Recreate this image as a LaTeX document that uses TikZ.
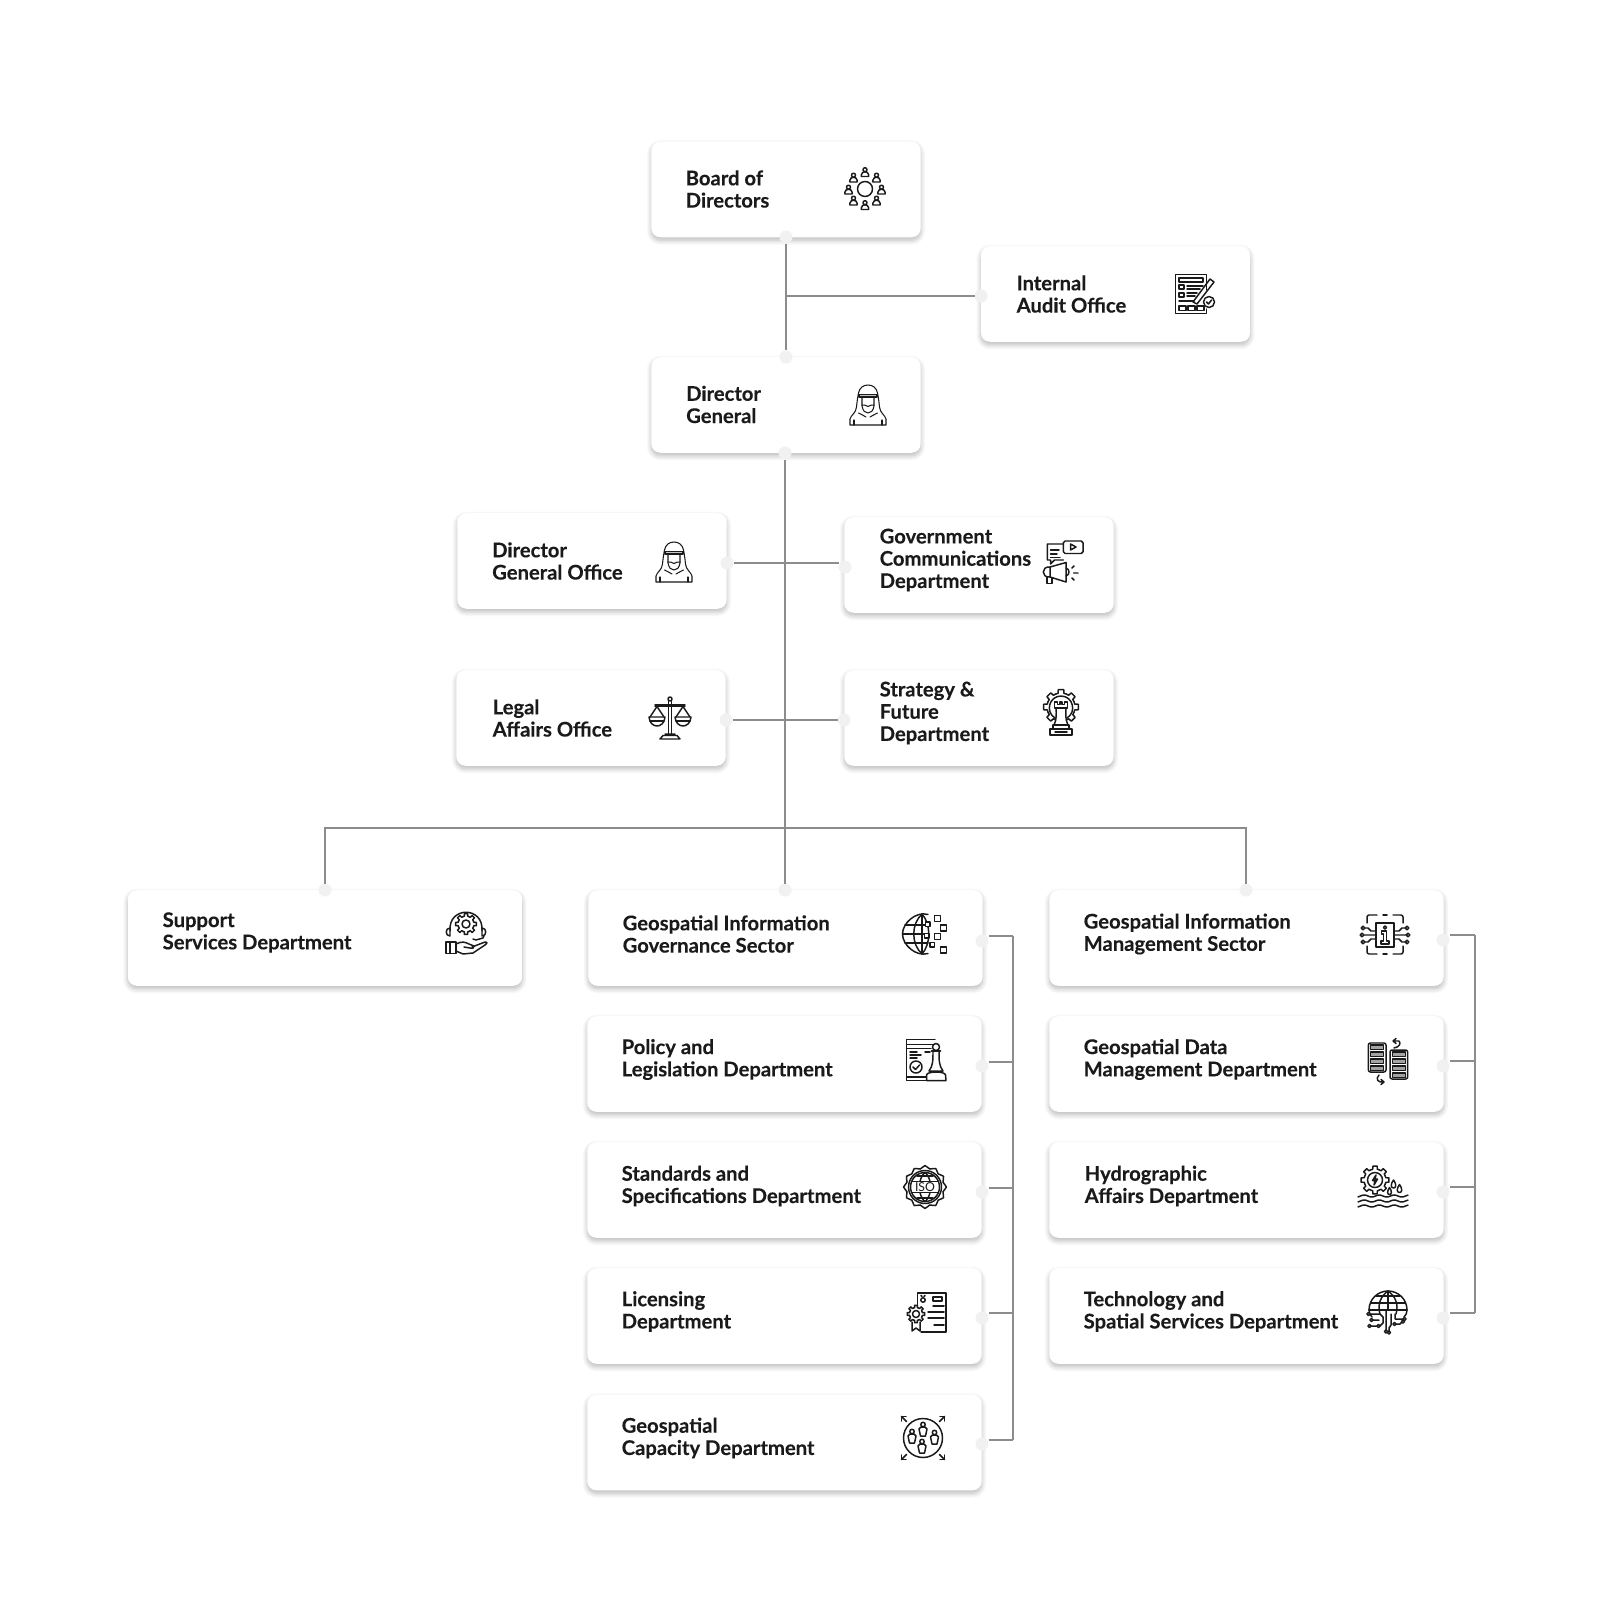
\documentclass[tikz,border=0pt]{standalone}
\usepackage{fontspec}
\setmainfont{Lato}[BoldFeatures={FakeBold=0.2}]
\usetikzlibrary{shadows.blur}

\definecolor{inkdark}{HTML}{1A1A1A}
\definecolor{linkgrey}{HTML}{8C8C8C}
\definecolor{dotgrey}{HTML}{F1F1F1}

\tikzset{
  cardbox/.style={fill=white,rounded corners=.09cm,minimum width=2.69cm,minimum height=.955cm,inner sep=0pt,
    blur shadow={shadow xshift=0cm,shadow yshift=-.03cm,shadow blur radius=.05cm,shadow blur steps=8,shadow opacity=28}},
  widecard/.style={cardbox,minimum width=3.94cm},
  cardtext/.style={anchor=west,align=left,inner sep=0pt,text=inkdark,font=\fontsize{5.75}{6.33}\selectfont\bfseries},
  linkdot/.style={circle,fill=dotgrey,minimum size=.13cm,inner sep=0pt,outer sep=0pt},
  linkline/.style={draw=linkgrey,line width=.55pt},
  iconline/.style={draw=inkdark,line width=.42pt,line cap=round,line join=round},
  thinline/.style={draw=inkdark,line width=.3pt,line cap=round,line join=round},
  miniperson/.pic={
    \draw[iconline] (0,-2.8) circle (2);
    \draw[iconline] (-3.6,4) -- (-3.6,2.2) .. controls (-3.4,0) and (-1.5,-.7) .. (0,-.7) .. controls (1.5,-.7) and (3.4,0) .. (3.6,2.2) -- (3.6,4) -- cycle;
  },
  boardicon/.pic={
    \draw[iconline] (0,0) circle (7.5);
    \foreach \a/\b in {0/-16.5,-11.5/-11,11.5/-11,-16.5/1,16.5/1,-11.5/12,11.5/12,0/16.5}
      \pic at (\a,\b) {miniperson};
  },
  manicon/.pic={
    \draw[thinline] (-18,20) -- (-18,14) .. controls (-17,10) and (-12,8) .. (-11.5,2) .. controls (-11,-3) and (-10.5,-7) .. (-9.5,-12) .. controls (-8.5,-17) and (-5,-20) .. (0,-20) .. controls (5,-20) and (8.5,-17) .. (9.5,-12) .. controls (10.5,-7) and (11,-3) .. (11.5,2) .. controls (12,8) and (17,10) .. (18,14) -- (18,20) -- cycle;
    \draw[thinline,fill=inkdark!25] (-9,-10.5) rectangle (9,-8);
    \draw[thinline] (-6,-8) -- (-6,1) .. controls (-5,6) and (-3,8) .. (0,8) .. controls (3,8) and (5,6) .. (6,1) -- (6,-8);
    \draw[thinline] (-6,0) .. controls (-4,0) and (-2,0) .. (0,1.5) .. controls (2,0) and (4,0) .. (6,0);
    \draw[thinline] (-9.5,8) .. controls (-7,10) and (-4,10) .. (-2,12) (9.5,8) .. controls (7,10) and (4,10) .. (2,12);
    \draw[thinline] (-14,15) -- (-14,20) (14,15) -- (14,20);
  },
  auditicon/.pic={
    \draw[iconline] (11.5,-4) -- (11.5,-19.5) -- (-19.5,-19.5) -- (-19.5,19.5) -- (11.5,19.5) -- (11.5,15);
    \draw[iconline] (-16,-16) rectangle (8,-12);
    \draw[iconline] (-16,-9) rectangle (-11,-5) (-16,-1) rectangle (-11,3);
    \draw[iconline] (-8,-8) -- (8,-8) (-8,-5) -- (5,-5) (-8,-1) -- (2,-1) (-8,2) -- (0,2) (-16,7) -- (-1,7);
    \draw[iconline] (-16,12) rectangle (-9,16.5) (-7,12) rectangle (0,16.5) (2,12) rectangle (9,16.5);
    \draw[iconline] (-2,8) -- (15,-15) -- (19,-12) -- (2,10) -- cycle;
    \draw[iconline,fill=white] (14,8) circle (5.5);
    \draw[iconline] (11.5,8) -- (13.5,10) -- (16.5,6);
  },
  govicon/.pic={
    \draw[iconline] (.3,-17) -- (-15.7,-17) -- (-15.7,-1) -- (-12.5,-1) -- (-12.5,3) -- (-8.5,-1) -- (.3,-1);
    \draw[iconline] (-12.5,-11) -- (-4,-11) (-12.5,-7) -- (-6,-7) (-12.5,-3.5) -- (-3,-3.5);
    \draw[iconline,rounded corners=.5pt,fill=white] (.3,-20) rectangle (20,-7.5);
    \draw[iconline] (7.5,-17) -- (7.5,-11) -- (13,-14) -- cycle;
    \draw[iconline] (-13,6) -- (3,1.5) -- (3,21) -- (-13,16) -- cycle;
    \draw[iconline] (-13,6) .. controls (-22,5) and (-22,17) .. (-13,16);
    \draw[iconline] (-16,16) -- (-16,22.5) -- (-11,22.5) -- (-11,16.5);
    \draw[iconline] (3,7) .. controls (7,8) and (7,14) .. (3,15);
    \draw[iconline] (9,7) -- (11,5) (10.5,12) -- (15,12) (9,17) -- (11,19);
  },
  legalicon/.pic={
    \draw[iconline] (-1.5,-18) -- (-1.5,16) (1.5,-18) -- (1.5,16);
    \draw[iconline] (0,-19) circle (2);
    \draw[iconline] (-15,-13) -- (15,-13) (-15,-11.5) -- (15,-11.5);
    \draw[iconline] (-5,16) -- (5,16) (-10,21) -- (10,21) -- (7,17.5) -- (-7,17.5) -- cycle;
    \foreach \s in {-1,1}{
      \draw[iconline] (\s*13,-11.5) -- (\s*6,-1) (\s*13,-11.5) -- (\s*20,-1);
      \draw[iconline] (\s*5,-1) -- (\s*21,-1) .. controls (\s*20,11) and (\s*6,11) .. (\s*5,-1);
      \draw[iconline] (\s*6,3) -- (\s*20,3);
    }
  },
  strategyicon/.pic={
    \foreach \a in {0,45,135,180,225,270,315}
      \draw[iconline,shift={(0,-7)}] (\a-22.5:14) -- (\a-12:14) -- (\a-9:17.5) -- (\a+9:17.5) -- (\a+12:14) -- (\a+22.5:14);
    \draw[iconline] (-6,4) .. controls (-16,-2) and (-12,-18) .. (0,-18) .. controls (12,-18) and (16,-2) .. (6,4);
    \draw[iconline] (-6.5,-12) -- (-6.5,-6) -- (6.5,-6) -- (6.5,-12) -- (3.5,-12) -- (3.5,-9.5) -- (1.2,-9.5) -- (1.2,-12) -- (-1.2,-12) -- (-1.2,-9.5) -- (-3.5,-9.5) -- (-3.5,-12) -- cycle;
    \draw[iconline] (-5,-6) .. controls (-4.5,0) and (-4.5,6) .. (-7,11) -- (7,11) .. controls (4.5,6) and (4.5,0) .. (5,-6);
    \draw[iconline] (-8,11) rectangle (8,15) (-11,15) -- (11,15) -- (11,21) -- (-11,21) -- cycle;
    \draw[iconline] (-6,18) -- (6,18);
  },
  supporticon/.pic={
    \foreach \a in {0,45,...,315}
      \draw[iconline,shift={(0,-10)}] (\a-22.5:8) -- (\a-12:8) -- (\a-9:10.5) -- (\a+9:10.5) -- (\a+12:8) -- (\a+22.5:8);
    \draw[iconline] (0,-10) circle (4);
    \draw[iconline] (-16,-3) .. controls (-18,-28) and (18,-28) .. (16,-3);
    \draw[iconline] (-16,-6) .. controls (-21,-6) and (-21,2) .. (-16,2) -- cycle (16,-6) .. controls (21,-6) and (21,2) .. (16,2) -- cycle;
    \draw[iconline] (18,2) -- (17,4) -- (10,6) -- (7,5);
    \draw[iconline] (-20,8) rectangle (-10,19.5) (-16,8) -- (-16,19.5);
    \draw[iconline] (-10,10) .. controls (-4,7) and (-1,8) .. (3,10) -- (8,12) .. controls (9,14) and (6,15) .. (4,14) -- (-2,13);
    \draw[iconline] (6,13) -- (19,8) .. controls (22,8) and (21,10) .. (19,11) -- (7,19) -- (-3,20) -- (-10,17);
  },
  gigicon/.pic={
    \draw[iconline] (3,-19.5) .. controls (-9,-23) and (-22.5,-11) .. (-22.5,0) .. controls (-22.5,11) and (-9,23) .. (3,19.5);
    \draw[iconline] (-3,-20) .. controls (-14,-10) and (-14,10) .. (-3,20) (-3,-20) .. controls (6,-10) and (6,10) .. (-3,20);
    \draw[iconline] (-3,-20) -- (-3,20) (-22.5,0) -- (-1,0) (-20,-9) -- (2,-9) (-20,9) -- (3,9);
    \foreach \a/\b in {12.3/-15.4,18.3/-6,12.3/2.5,18.3/16}
      \draw[iconline,fill=white] (\a-3,\b-3) rectangle (\a+3,\b+3);
    \foreach \a/\b in {2.7/-9.6,1.7/1.8,7.3/10.7}
      \draw[iconline,fill=white] (\a-2.2,\b-2.2) rectangle (\a+2.2,\b+2.2);
  },
  policyicon/.pic={
    \draw[iconline] (10,-20.5) -- (-18.3,-20.5) -- (-18.3,20.5) -- (13.3,20.5);
    \draw[iconline] (-18.3,-15.5) -- (9,-15.5) (-18.3,-11.5) -- (6,-11.5) (-18.3,17) -- (1,17);
    \draw[iconline] (-15,-8) -- (-8,-8) (-15,-5) -- (-4,-5) (-15,-2) -- (-8,-2) (0,-8) -- (5,-8);
    \draw[iconline] (-9,7) circle (6);
    \draw[iconline] (-12,7) -- (-9.5,9.5) -- (-5.5,5);
    \draw[iconline,fill=white] (11,-13) circle (3.5);
    \draw[iconline,fill=white] (8,-9) .. controls (8,0) and (8,6) .. (4,11) -- (18,11) .. controls (14,6) and (14,0) .. (14,-9) -- cycle;
    \draw[iconline] (6.5,-9) -- (15.5,-9);
    \draw[iconline] (1.5,20.5) -- (1.5,15) .. controls (2,11) and (20,11) .. (20.5,15) -- (21,20.5) -- cycle;
  },
  isoicon/.pic={
    \draw[iconline,smooth cycle] plot[domain=0:345,samples=24] (\x:{20+1.4*cos(12*\x)});
    \draw[iconline] (0,0) circle (16.5);
    \draw[iconline] (0,0) circle (14.5);
    \draw[iconline] (-13,-5.5) -- (13,-5.5) (-13,5.5) -- (13,5.5);
    \draw[iconline] (-8,-11) -- (8,-11) (-8,11) -- (8,11);
    \draw[iconline] (-5,-5.5) .. controls (-4,-10) and (-2,-13) .. (0,-14.5) .. controls (2,-13) and (4,-10) .. (5,-5.5);
    \draw[iconline] (-5,5.5) .. controls (-4,10) and (-2,13) .. (0,14.5) .. controls (2,13) and (4,10) .. (5,5.5);
    \node[inner sep=0pt,text=inkdark,font=\fontsize{3.5}{4}\selectfont] (isotext) at (0,0) {ISO};
  },
  licenceicon/.pic={
    \draw[iconline] (-10.7,-5) -- (-10.7,-19) -- (18,-19) -- (18,20) -- (-7,20);
    \draw[iconline] (5,-15) rectangle (14,-11);
    \draw[iconline] (-5,-12) circle (2.2);
    \draw[iconline] (-7,-16.5) -- (-6,-15.5) (-3,-16.5) -- (-4,-15.5);
    \draw[iconline] (5,-6) -- (16,-6) (0,0) -- (16,0) (0,6) -- (16,6) (6,13) -- (16,13);
    \foreach \a in {0,45,...,315}
      \draw[iconline,shift={(-12,2)}] (\a-22.5:6.5) -- (\a-12:6.5) -- (\a-9:8.8) -- (\a+9:8.8) -- (\a+12:6.5) -- (\a+22.5:6.5);
    \draw[iconline] (-12,2) circle (3.5);
    \draw[iconline] (-16,10) -- (-16,19) -- (-12,16) -- (-8,19) -- (-8,10);
  },
  capacityicon/.pic={
    \draw[iconline] (0,0) circle (19.5);
    \foreach \a/\b in {0/-8,-11/-1,11.5/0,-1/9}{
      \draw[iconline] (\a,\b-5.5) circle (2.2);
      \draw[iconline] (\a-4,\b-1) -- (\a-2,\b-3) -- (\a+2,\b-3) -- (\a+4,\b-1) -- (\a+2.5,\b+6) -- (\a-2.5,\b+6) -- cycle;
    }
    \foreach \s/\t in {-1/-1,1/-1,-1/1,1/1}{
      \draw[iconline] (\s*16.5,\t*16.5) -- (\s*21.5,\t*21.5);
      \draw[iconline] (\s*17,\t*21.5) -- (\s*21.5,\t*21.5) -- (\s*21.5,\t*17);
    }
  },
  gimicon/.pic={
    \draw[iconline] (-9,-12) rectangle (9,12);
    \draw[iconline] (-3.5,-4) -- (1.5,-4) -- (1.5,6) -- (4,6) -- (4,9) -- (-4,9) -- (-4,6) -- (-1.5,6) -- (-1.5,-1) -- (-3.5,-1) -- cycle;
    \draw[iconline] (0,-7.5) circle (1.6);
    \draw[iconline] (-8,-20) -- (-16,-20) .. controls (-17,-20) and (-18,-19) .. (-18,-18) -- (-18,-12) (8,-20) -- (16,-20) .. controls (17,-20) and (18,-19) .. (18,-18) -- (18,-12);
    \draw[iconline] (-8,19) -- (-16,19) .. controls (-17,19) and (-18,18) .. (-18,17) -- (-18,11) (8,19) -- (16,19) .. controls (17,19) and (18,18) .. (18,17) -- (18,11);
    \draw[iconline] (-2,-20) -- (2,-20) (-2,19) -- (2,19);
    \foreach \s in {-1,1}{
      \draw[iconline] (\s*9,-4) -- (\s*14,-4) -- (\s*17,-7) -- (\s*20,-7) (\s*9,0) -- (\s*21,0) (\s*9,4) -- (\s*14,4) -- (\s*17,7) -- (\s*20,7);
      \draw[iconline,fill=white] (\s*22,-7) circle (1.8) (\s*23,0) circle (1.8) (\s*22,7) circle (1.8);
    }
  },
  gdmicon/.pic={
    \foreach \p/\q in {-19.7/-18,2/-11}{
      \draw[iconline,rounded corners=.6pt] (\p,\q) rectangle (\p+17.7,\q+29);
      \foreach \r in {2,9,16,23}
        \draw[thinline,fill=inkdark!40] (\p+2.5,\q+\r) rectangle (\p+15.2,\q+\r+4.5);
    }
    \draw[iconline] (6,-13) .. controls (12,-14) and (13,-18) .. (11,-20) (5,-20) -- (11,-20) (5,-20) -- (8,-22.5) (5,-20) -- (8,-17.5);
    \draw[iconline] (-9,14) .. controls (-13,18) and (-10,22) .. (-4,21) (-4,21) -- (-7,18.5) (-4,21) -- (-7,23.5);
  },
  hydroicon/.pic={
    \foreach \a in {0,45,...,315}
      \draw[iconline,shift={(-8,-7)}] (\a-22.5:11) -- (\a-12:11) -- (\a-9:14) -- (\a+9:14) -- (\a+12:11) -- (\a+22.5:11);
    \draw[iconline] (-8,-7) circle (7.5);
    \draw[iconline] (-7,-12) -- (-10.5,-6.5) -- (-8,-6.5) -- (-9,-2) -- (-5.5,-8) -- (-8,-8) -- cycle;
    \foreach \a/\b/\c in {10.5/-2/3,16.5/2.5/3,6.5/5/2.5}
      \draw[iconline,fill=white] (\a,\b-\c-2) .. controls (\a+\c,\b-1) and (\a+\c,\b+\c) .. (\a,\b+\c) .. controls (\a-\c,\b+\c) and (\a-\c,\b-1) .. (\a,\b-\c-2);
    \foreach \b in {9,14,19}
      \draw[iconline] plot[domain=-25:25,samples=41] (\x,{\b+1*sin(24*\x)});
  },
  techicon/.pic={
    \draw[iconline] (-19,-3) .. controls (-19,-14) and (-10,-22) .. (0,-22) .. controls (10,-22) and (19,-14) .. (19,-3) .. controls (19,0) and (18,2) .. (16,4);
    \draw[iconline] (-19,-3) .. controls (-19,0) and (-18,2) .. (-16,4);
    \draw[iconline] (-8,1) .. controls (-11,-9) and (-7,-17) .. (0,-22) .. controls (7,-17) and (11,-9) .. (8,1);
    \draw[iconline] (0,-22) -- (0,-3) (-19,-3) -- (19,-3) (-17,-10) -- (17,-10) (-12,-17) -- (12,-17);
    \draw[iconline] (-18,1) -- (-8,1) -- (-5,4) -- (-5,10) -- (-8,13) (-15,7) -- (-9,7) (-17,13) -- (-11,13) (-2,-3) -- (-2,17) (3,1) -- (3,12) -- (1,15) -- (1,19) (7,1) -- (7,6) -- (15,6) (8,11) -- (12,11) -- (14,9);
    \draw[iconline,fill=white] (-19.5,1) circle (1.6) (-16.5,7) circle (1.6) (-18.5,13) circle (1.6) (-9.5,13) circle (1.6) (-2,18.5) circle (1.6) (1,19.5) circle (1.6) (16.5,6) circle (1.6) (6.5,11) circle (1.6) (15,8.5) circle (1.6);
  }
}

\begin{document}
\begin{tikzpicture}[x=.01cm,y=-.01cm]
\useasboundingbox (0,0) rectangle (1600,1600);

\node[cardbox] (board) at (786,189.5) {};
\node[cardbox] (audit) at (1115.5,294) {};
\node[cardbox] (dg) at (786,405) {};
\node[cardbox] (dgoffice) at (592,561) {};
\node[cardbox] (gov) at (979,565) {};
\node[cardbox] (legal) at (591,718) {};
\node[cardbox] (strategy) at (979,718) {};
\node[widecard] (support) at (325,938) {};
\node[widecard] (gig) at (785.5,938) {};
\node[widecard] (policy) at (784.5,1064) {};
\node[widecard] (standards) at (784.5,1190) {};
\node[widecard] (licensing) at (784.5,1316) {};
\node[widecard] (capacity) at (784.5,1442.5) {};
\node[widecard] (gim) at (1246.5,938) {};
\node[widecard] (gdm) at (1246.5,1064) {};
\node[widecard] (hydro) at (1246.5,1190) {};
\node[widecard] (tech) at (1246.5,1316) {};

\node[cardtext] (boardtext) at (685,189) {Board of\\Directors};
\node[cardtext] (audittext) at (1016,294) {Internal\\Audit Office};
\node[cardtext] (dgtext) at (685.5,404.5) {Director\\General};
\node[cardtext] (dgofficetext) at (491.5,561) {Director\\General Office};
\node[cardtext] (govtext) at (879,560) {Government\\Communications\\Department};
\node[cardtext] (legaltext) at (492,718) {Legal\\Affairs Office};
\node[cardtext] (strategytext) at (879,713) {Strategy \&\\Future\\Department};
\node[cardtext] (supporttext) at (162,932.5) {Support\\Services Department};
\node[cardtext] (gigtext) at (622,934) {Geospatial Information\\Governance Sector};
\node[cardtext] (policytext) at (621,1059.5) {Policy and\\Legislation Department};
\node[cardtext] (standardstext) at (621,1186) {Standards and\\Specifications Department};
\node[cardtext] (licensingtext) at (621,1311.5) {Licensing\\Department};
\node[cardtext] (capacitytext) at (621,1438) {Geospatial\\Capacity Department};
\node[cardtext] (gimtext) at (1083,934) {Geospatial Information\\Management Sector};
\node[cardtext] (gdmtext) at (1083,1059.5) {Geospatial Data\\Management Department};
\node[cardtext] (hydrotext) at (1084,1186) {Hydrographic\\Affairs Department};
\node[cardtext] (techtext) at (1083,1311.5) {Technology and\\Spatial Services Department};

\pic at (865,189) {boardicon};
\pic at (1195,294) {auditicon};
\pic at (868,405) {manicon};
\pic at (674,562) {manicon};
\pic at (1063,561) {govicon};
\pic at (670,718) {legalicon};
\pic at (1061,714) {strategyicon};
\pic at (466,934) {supporticon};
\pic at (925,934) {gigicon};
\pic at (925,1060) {policyicon};
\pic at (925,1187) {isoicon};
\pic at (928,1312) {licenceicon};
\pic at (923,1438) {capacityicon};
\pic at (1385,935) {gimicon};
\pic at (1388,1061) {gdmicon};
\pic at (1383,1187) {hydroicon};
\pic at (1388,1313) {techicon};

\node[linkdot] (boardB) at (786,237) {};
\node[linkdot] (dgT) at (786,357) {};
\node[linkdot] (dgB) at (785,453) {};
\node[linkdot] (auditL) at (981,296) {};
\node[linkdot] (dgofficeR) at (727,563) {};
\node[linkdot] (govL) at (845,567) {};
\node[linkdot] (legalR) at (726,720) {};
\node[linkdot] (strategyL) at (844,720) {};
\node[linkdot] (supportT) at (325,890) {};
\node[linkdot] (gigT) at (785,890) {};
\node[linkdot] (gimT) at (1246,890) {};
\node[linkdot] (gigR) at (982,941) {};
\node[linkdot] (policyR) at (982,1066) {};
\node[linkdot] (standardsR) at (982,1192) {};
\node[linkdot] (licensingR) at (982,1318) {};
\node[linkdot] (capacityR) at (982,1444) {};
\node[linkdot] (gimR) at (1443,940) {};
\node[linkdot] (gdmR) at (1443,1066) {};
\node[linkdot] (hydroR) at (1443,1192) {};
\node[linkdot] (techR) at (1443,1318) {};

\coordinate (busL) at (325,828);
\coordinate (busR) at (1246,828);
\coordinate (railA) at (1013,936);
\coordinate (railB) at (1013,1062);
\coordinate (railC) at (1013,1188);
\coordinate (railD) at (1013,1313);
\coordinate (railE) at (1013,1440);
\coordinate (rightA) at (1475,935);
\coordinate (rightB) at (1475,1061);
\coordinate (rightC) at (1475,1187);
\coordinate (rightD) at (1475,1313);

\draw[linkline] (boardB) -- (dgT);
\draw[linkline] (boardB |- auditL) -- (auditL);
\draw[linkline] (dgB) -- (gigT);
\draw[linkline] (dgofficeR) -- (dgofficeR -| govL.west);
\draw[linkline] (legalR) -- (strategyL);
\draw[linkline] (supportT) -- (busL) -- (busR) -- (gimT);

\draw[linkline] (railA) -- (railE);
\draw[linkline] (gigR.east |- railA) -- (railA);
\draw[linkline] (policyR.east |- railB) -- (railB);
\draw[linkline] (standardsR.east |- railC) -- (railC);
\draw[linkline] (licensingR.east |- railD) -- (railD);
\draw[linkline] (capacityR.east |- railE) -- (railE);

\draw[linkline] (rightA) -- (rightD);
\draw[linkline] (gimR.east |- rightA) -- (rightA);
\draw[linkline] (gdmR.east |- rightB) -- (rightB);
\draw[linkline] (hydroR.east |- rightC) -- (rightC);
\draw[linkline] (techR.east |- rightD) -- (rightD);
\end{tikzpicture}
\end{document}
